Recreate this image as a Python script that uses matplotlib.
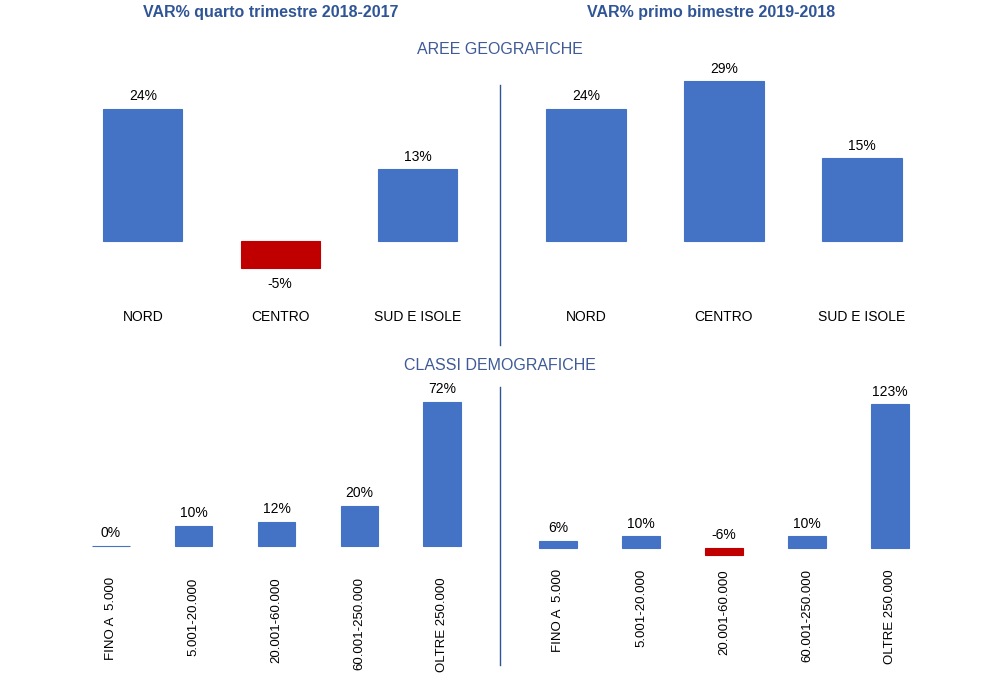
import matplotlib.pyplot as plt
from matplotlib.lines import Line2D

plt.rcParams['font.family'] = ['Liberation Sans Narrow', 'Liberation Sans', 'DejaVu Sans']

BLUE = '#4472C4'
RED = '#C00000'
TITLE_COL = '#2F5597'
SECT_COL = '#3F5A96'

# data
aree = ['NORD', 'CENTRO', 'SUD E ISOLE']
aree_q4 = [24, -5, 13]
aree_bim = [24, 29, 15]

classi = ['FINO A  5.000', '5.001-20.000', '20.001-60.000', '60.001-250.000', 'OLTRE 250.000']
classi_q4 = [0, 10, 12, 20, 72]
classi_bim = [6, 10, -6, 10, 123]

W, H = 1004, 677
fig = plt.figure(figsize=(W / 100, H / 100), dpi=100)


def px_axes(left, top, right, bottom):
    return fig.add_axes([left / W, 1 - bottom / H, (right - left) / W, (bottom - top) / H])


def panel(ax, cats, vals, ylim, width, neg_above=False, rot=0, pad=10, fs=10):
    x = list(range(len(cats)))
    cols = [RED if v < 0 else BLUE for v in vals]
    ax.bar(x, vals, width=width, color=cols, edgecolor=cols, linewidth=0.8)
    for xi, v in zip(x, vals):
        if v >= 0 or neg_above:
            ax.annotate(f'{v}%', (xi, max(v, 0)), xytext=(0, 4), textcoords='offset points',
                        ha='center', va='bottom', fontsize=10)
        else:
            ax.annotate(f'{v}%', (xi, v), xytext=(0, -6), textcoords='offset points',
                        ha='center', va='top', fontsize=10)
    ax.set_xlim(-0.5, len(cats) - 0.5)
    ax.set_ylim(*ylim)
    ax.set_xticks(x)
    if rot:
        ax.set_xticklabels(cats, rotation=90, fontsize=fs, va='top', ha='center')
    else:
        ax.set_xticklabels(cats, fontsize=fs)
    ax.tick_params(axis='x', length=0, pad=pad)
    ax.set_yticks([])
    for s in ax.spines.values():
        s.set_visible(False)


# top row: baseline y=241, 5.5 px per %
ax1 = px_axes(74, 241 - 35 * 5.5, 486.5, 241 + 10 * 5.5)
panel(ax1, aree, aree_q4, (-10, 35), 0.575, pad=10)
ax2 = px_axes(517, 241 - 35 * 5.5, 931, 241 + 10 * 5.5)
panel(ax2, aree, aree_bim, (-10, 35), 0.575, pad=10)

# bottom row
ax3 = px_axes(69.6, 546 - 78 * 2.0, 483.4, 546 + 8 * 2.0)
panel(ax3, classi, classi_q4, (-8, 78), 0.45, rot=90, pad=11, fs=9.5)
ax4 = px_axes(516.5, 548 - 130 * 1.17, 931.5, 548 + 12 * 1.17)
panel(ax4, classi, classi_bim, (-12, 130), 0.45, neg_above=True, rot=90, pad=5, fs=9.5)

# titles
fig.text(271 / W, 1 - 12 / H, 'VAR% quarto trimestre 2018-2017', ha='center', va='center',
         fontsize=11.5, fontweight='bold', color=TITLE_COL)
fig.text(711 / W, 1 - 12 / H, 'VAR% primo bimestre 2019-2018', ha='center', va='center',
         fontsize=11.5, fontweight='bold', color=TITLE_COL)
fig.text(500 / W, 1 - 50 / H, 'AREE GEOGRAFICHE', ha='center', va='center',
         fontsize=11.5, color=SECT_COL)
fig.text(500 / W, 1 - 366 / H, 'CLASSI DEMOGRAFICHE', ha='center', va='center',
         fontsize=11.5, color=SECT_COL)

# dividers
for y0, y1 in [(85, 345), (387, 665)]:
    fig.add_artist(Line2D([500 / W, 500 / W], [1 - y0 / H, 1 - y1 / H],
                          transform=fig.transFigure, color='#2F5597', linewidth=1))

fig.savefig('out.png', dpi=100, facecolor='white')
